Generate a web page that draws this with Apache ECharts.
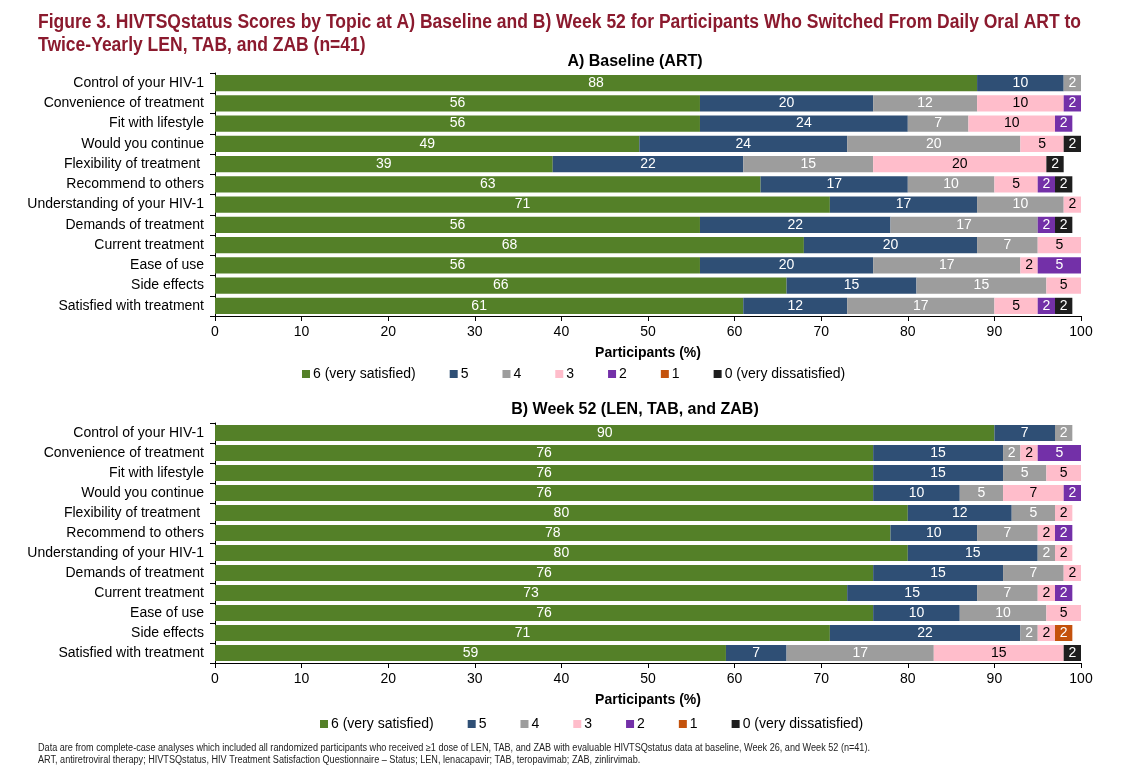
<!DOCTYPE html>
<html><head><meta charset="utf-8">
<script src="https://cdn.jsdelivr.net/npm/echarts@6/dist/echarts.min.js"></script>
<style>html,body{margin:0;padding:0;background:#fff}#c{width:1124px;height:773px}</style>
</head><body><div id="c"></div>
<script>
const topics = ['Control of your HIV-1','Convenience of treatment','Fit with lifestyle','Would you continue','Flexibility of treatment ','Recommend to others','Understanding of your HIV-1','Demands of treatment','Current treatment','Ease of use','Side effects','Satisfied with treatment'];
const scoreNames = ['6 (very satisfied)','5','4','3','2','1','0 (very dissatisfied)'];
const scoreColors = ['#548028','#2F4F75','#9D9D9D','#FFBDCB','#7330A8','#C4520C','#1E1E1E'];
const labelColors = ['#fff','#fff','#fff','#000','#fff','#fff','#fff'];
const xTicks = [0,10,20,30,40,50,60,70,80,90,100];

// Baseline (ART), % per score
const base6 = [88,56,56,49,39,63,71,56,68,56,66,61];
const base5 = [10,20,24,24,22,17,17,22,20,20,15,12];
const base4 = [2,12,7,20,15,10,10,17,7,17,15,17];
const base3 = [0,10,10,5,20,5,2,0,5,2,5,5];
const base2 = [0,2,2,0,0,2,0,2,0,5,0,2];
const base1 = [0,0,0,0,0,0,0,0,0,0,0,0];
const base0 = [0,0,0,2,2,2,0,2,0,0,0,2];
// Week 52 (LEN, TAB, and ZAB)
const wk6 = [90,76,76,76,80,78,80,76,73,76,71,59];
const wk5 = [7,15,15,10,12,10,15,15,15,10,22,7];
const wk4 = [2,2,5,5,5,7,2,7,7,10,2,17];
const wk3 = [0,2,5,7,2,2,2,2,2,5,2,15];
const wk2 = [0,5,0,2,0,2,0,0,2,0,0,0];
const wk1 = [0,0,0,0,0,0,0,0,0,0,2,0];
const wk0 = [0,0,0,0,0,0,0,0,0,0,0,2];

const baseSets = [base6,base5,base4,base3,base2,base1,base0];
const wkSets = [wk6,wk5,wk4,wk3,wk2,wk1,wk0];

const titleLine1 = 'Figure 3. HIVTSQstatus Scores by Topic at A) Baseline and B) Week 52 for Participants Who Switched From Daily Oral ART to';
const titleLine2 = 'Twice-Yearly LEN, TAB, and ZAB (n=41)';
const foot1 = 'Data are from complete-case analyses which included all randomized participants who received \u22651 dose of LEN, TAB, and ZAB with evaluable HIVTSQstatus data at baseline, Week 26, and Week 52 (n=41).';
const foot2 = 'ART, antiretroviral therapy; HIVTSQstatus, HIV Treatment Satisfaction Questionnaire \u2013 Status; LEN, lenacapavir; TAB, teropavimab; ZAB, zinlirvimab.';

const FONT = "'Liberation Sans', Arial, sans-serif";
const TITLE_FONT = "bold 20px 'Liberation Sans', Arial, sans-serif";
const FOOT_FONT = "10px 'Liberation Sans', Arial, sans-serif";

const mctx = document.createElement('canvas').getContext('2d');
mctx.font = TITLE_FONT;
const titleScale = 1043 / mctx.measureText(titleLine1).width;
mctx.font = FOOT_FONT;
const footScale = 832 / mctx.measureText(foot1).width;

function mkSeries(sets, idx, stack){
  return sets.map((arr,i)=>({
    name: scoreNames[i], type:'bar', stack: stack, xAxisIndex: idx, yAxisIndex: idx,
    barCategoryGap:'20%', clip:true,
    data: arr.map(v => v === 0 ? null : v),
    itemStyle:{color: scoreColors[i]},
    label:{show:true, position:'inside', color: labelColors[i], fontFamily: FONT, fontSize:14,
      formatter: p => (p.value ? String(p.value) : '')},
    emphasis:{disabled:true}, animation:false
  }));
}
function xAx(gi){
  return {type:'value', gridIndex:gi, min:0, max:100, interval:10,
    name:'Participants (%)', nameLocation:'middle', nameGap:30,
    nameTextStyle:{fontFamily:FONT, fontSize:14, fontWeight:'bold', color:'#000'},
    axisLine:{show:true, lineStyle:{color:'#000', width:1}},
    axisTick:{show:true, length:5, lineStyle:{color:'#000'}},
    splitLine:{show:false},
    axisLabel:{fontFamily:FONT, fontSize:14, color:'#000', margin:9,
      formatter: v => xTicks.includes(v) ? String(v) : ''}};
}
function yAx(gi){
  return {type:'category', gridIndex:gi, data: topics, inverse:true,
    axisLine:{show:true, lineStyle:{color:'#000', width:1}},
    axisTick:{show:true, length:5, lineStyle:{color:'#000'}},
    axisLabel:{fontFamily:FONT, fontSize:14, color:'#000', margin:11}};
}
function legend(left, top){
  return {data: scoreNames, left:left, top:top, itemWidth:8, itemHeight:8, itemGap:34,
    icon:'rect', selectedMode:false,
    textStyle:{fontFamily:FONT, fontSize:14, color:'#000', padding:[0,0,0,-2]}};
}

const chart = echarts.init(document.getElementById('c'));
chart.setOption({
  animation:false,
  backgroundColor:'#fff',
  graphic:[
    {type:'text', x:38, y:22, scaleX:titleScale, style:{text:titleLine1, font:TITLE_FONT, fill:'#8B1A2E', textVerticalAlign:'middle'}},
    {type:'text', x:38, y:45, scaleX:titleScale, style:{text:titleLine2, font:TITLE_FONT, fill:'#8B1A2E', textVerticalAlign:'middle'}},
    {type:'text', x:635, y:62, style:{text:'A) Baseline (ART)', font:"bold 16px 'Liberation Sans', Arial", fill:'#000', textAlign:'center', textVerticalAlign:'middle'}},
    {type:'text', x:635, y:410, style:{text:'B) Week 52 (LEN, TAB, and ZAB)', font:"bold 16px 'Liberation Sans', Arial", fill:'#000', textAlign:'center', textVerticalAlign:'middle'}},
    {type:'text', x:38, y:748, scaleX:footScale, style:{text:foot1, font:FOOT_FONT, fill:'#222', textVerticalAlign:'middle'}},
    {type:'text', x:38, y:760, scaleX:footScale, style:{text:foot2, font:FOOT_FONT, fill:'#222', textVerticalAlign:'middle'}}
  ],
  legend:[legend(297,362), legend(315,712)],
  grid:[{left:215, right:43, top:73, height:243},{left:215, right:43, top:423, height:240}],
  xAxis:[xAx(0), xAx(1)],
  yAxis:[yAx(0), yAx(1)],
  series:[...mkSeries(baseSets,0,'base'), ...mkSeries(wkSets,1,'wk')]
});
</script></body></html>
